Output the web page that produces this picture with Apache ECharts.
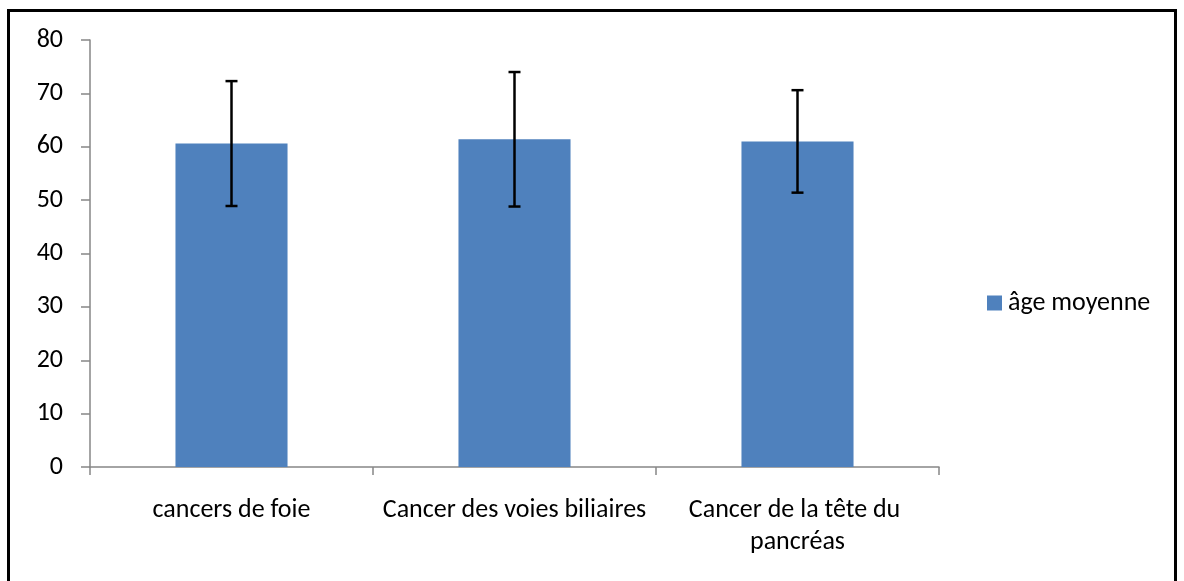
<!DOCTYPE html>
<html>
<head>
<meta charset="utf-8">
<script src="https://cdn.jsdelivr.net/npm/echarts@6/dist/echarts.min.js"></script>
<style>
html,body{margin:0;padding:0;background:#fff;}
#chart{width:1184px;height:581px;}
</style>
</head>
<body>
<div id="chart"></div>
<script>
const categories = ['cancers de foie', 'Cancer des voies biliaires', 'Cancer de la tête du pancréas'];
const seriesName = 'âge moyenne';
const meanAge = [60.6, 61.4, 61.0];
const errAge = [11.7, 12.6, 9.6];
const yTicks = [0, 10, 20, 30, 40, 50, 60, 70, 80];

const FONT = 'Carlito, Calibri, Lato, sans-serif';
const chart = echarts.init(document.getElementById('chart'), null, {renderer: 'canvas'});

const errData = categories.map((c, i) => [i, meanAge[i] - errAge[i], meanAge[i] + errAge[i]]);

chart.setOption({
  animation: false,
  backgroundColor: '#ffffff',
  textStyle: {fontFamily: FONT},
  grid: {left: 90, right: 245, top: 40, bottom: 114, containLabel: false},
  legend: {
    data: [seriesName],
    left: 982, top: 285,
    itemWidth: 15, itemHeight: 15, itemGap: 10,
    icon: 'rect',
    textStyle: {fontFamily: FONT, fontSize: 26, color: '#000', padding: [0, 0, 0, 1]}
  },
  xAxis: {
    type: 'category',
    data: categories,
    axisLine: {lineStyle: {color: '#868686', width: 1.5}},
    axisTick: {show: true, length: 8, inside: false, lineStyle: {color: '#868686', width: 1.5}},
    axisLabel: {
      interval: 0,
      color: '#000', fontFamily: FONT, fontSize: 26, margin: 27,
      width: 275, overflow: 'break', lineHeight: 32
    }
  },
  yAxis: {
    type: 'value',
    min: 0, max: 80, interval: 10,
    axisLine: {show: true, lineStyle: {color: '#868686', width: 1.5}},
    axisTick: {show: true, length: 9, lineStyle: {color: '#868686', width: 1.5}},
    splitLine: {show: false},
    axisLabel: {
      color: '#000', fontFamily: FONT, fontSize: 26, margin: 27,
      formatter: v => yTicks.includes(v) ? String(v) : ''
    }
  },
  series: [
    {
      name: seriesName,
      type: 'bar',
      data: meanAge,
      barWidth: '39.6%',
      itemStyle: {color: '#4F81BD'}
    },
    {
      name: 'err',
      type: 'custom',
      data: errData,
      z: 10,
      renderItem: function (params, api) {
        const x = api.value(0);
        const lo = api.coord([x, api.value(1)]);
        const hi = api.coord([x, api.value(2)]);
        const cap = 6;
        const style = {stroke: '#000', lineWidth: 2.5};
        return {
          type: 'group',
          children: [
            {type: 'line', shape: {x1: hi[0], y1: hi[1], x2: lo[0], y2: lo[1]}, style: style},
            {type: 'line', shape: {x1: hi[0] - cap, y1: hi[1], x2: hi[0] + cap, y2: hi[1]}, style: style},
            {type: 'line', shape: {x1: lo[0] - cap, y1: lo[1], x2: lo[0] + cap, y2: lo[1]}, style: style}
          ]
        };
      }
    }
  ],
  graphic: [
    {
      type: 'rect',
      shape: {x: 8.5, y: 10.5, width: 1167, height: 600},
      style: {fill: 'none', stroke: '#000', lineWidth: 3},
      silent: true
    }
  ]
});
</script>
</body>
</html>
